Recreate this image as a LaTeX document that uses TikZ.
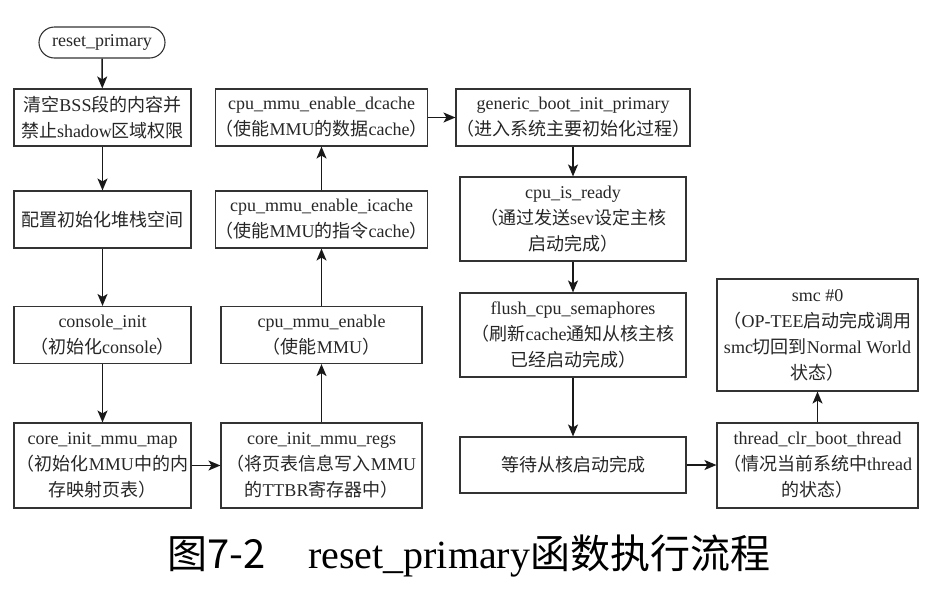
\documentclass[tikz,border=0pt]{standalone}
\usepackage{fontspec}
\setmainfont{Liberation Serif}
\newfontfamily\cjk{Noto Sans CJK SC}
\usetikzlibrary{arrows.meta,shapes.misc}
\newcommand{\zh}[1]{{\cjk #1}}
\definecolor{boxc}{HTML}{333333}
\definecolor{txtc}{HTML}{262626}
\tikzset{
  fbox/.style={draw=boxc, line width=1.1pt, inner sep=0pt, align=center,
    font=\fontsize{18}{26}\selectfont, text=txtc},
  colA/.style={minimum width=177pt},
  colB/.style={minimum width=201pt},
  colC/.style={minimum width=226pt},
  hA/.style={minimum height=57pt},
  hB/.style={minimum height=85pt},
  arr/.style={-{Stealth[length=12pt,width=10pt,inset=3pt]}, line width=1.5pt, draw=black!90}
}
\begin{document}
\begin{tikzpicture}[x=1pt,y=-1pt]
\useasboundingbox (0,0) rectangle (934,606);
% terminal
\node[fbox, rounded rectangle, minimum width=126pt, minimum height=31pt] (term) at (102,42.5) {reset\_primary};
% column A
\node[fbox,colA,hA] (b1) at (102.5,117.5) {\zh{清空}BSS\zh{段的内容并}\\\zh{禁止}shadow\zh{区域权限}};
\node[fbox,colA,hA] (b2) at (102.5,219.5) {\zh{配置初始化堆栈空间}};
\node[fbox,colA,hA] (con) at (102.5,335) {console\_init\\\zh{（初始化}console\zh{）}};
\node[fbox,colA,hB] (map) at (102.5,465.5) {core\_init\_mmu\_map\\\zh{（初始化}MMU\zh{中的内}\\\zh{存映射页表）}};
% column B
\node[fbox,colB,hA] (dc) at (321.5,117.5) {cpu\_mmu\_enable\_dcache\\\zh{（使能}MMU\zh{的数据}cache\zh{）}};
\node[fbox,colB,hA] (ic) at (321.5,219.5) {cpu\_mmu\_enable\_icache\\\zh{（使能}MMU\zh{的指令}cache\zh{）}};
\node[fbox,colB,hA] (en) at (321.5,335) {cpu\_mmu\_enable\\\zh{（使能}MMU\zh{）}};
\node[fbox,colB,hB] (regs) at (321.5,465.5) {core\_init\_mmu\_regs\\\zh{（将页表信息写入}MMU\\\zh{的}TTBR\zh{寄存器中）}};
% column C
\node[fbox,colC,hA] (gen) at (573,117.5) {generic\_boot\_init\_primary\\\zh{（进入系统主要初始化过程）}};
\node[fbox,colC,minimum height=84pt] (rdy) at (573,219) {cpu\_is\_ready\\\zh{（通过发送}sev\zh{设定主核}\\\zh{启动完成）}};
\node[fbox,colC,minimum height=84pt] (fl) at (573,335) {flush\_cpu\_semaphores\\\zh{（刷新}cache\zh{通知从核主核}\\\zh{已经启动完成）}};
\node[fbox,colC,minimum height=56pt] (wait) at (573,465) {\zh{等待从核启动完成}};
% column D
\node[fbox,colB,minimum height=112pt] (smc) at (817.5,335) {smc \#0\\\zh{（}OP-TEE\zh{启动完成调用}\\smc\zh{切回到}Normal World\\\zh{状态）}};
\node[fbox,colB,hB] (thr) at (817.5,465.5) {thread\_clr\_boot\_thread\\\zh{（情况当前系统中}thread\\\zh{的状态）}};
% caption
\node[inner sep=0pt, font=\fontsize{40}{48}\selectfont] (cap) at (469,556) {\zh{图7-2}\hspace{1.05em}reset\_primary\zh{函数执行流程}};
% arrows
\draw[arr] (term) -- (b1);
\draw[arr] (b1) -- (b2);
\draw[arr] (b2) -- (con);
\draw[arr] (con) -- (map);
\draw[arr] (map) -- (regs);
\draw[arr] (regs) -- (en);
\draw[arr] (en) -- (ic);
\draw[arr] (ic) -- (dc);
\draw[arr] (dc) -- (gen);
\draw[arr] (gen) -- (rdy);
\draw[arr] (rdy) -- (fl);
\draw[arr] (fl) -- (wait);
\draw[arr] (wait.east) -- (wait.east -| thr.west);
\draw[arr] (thr) -- (smc);
\end{tikzpicture}
\end{document}
